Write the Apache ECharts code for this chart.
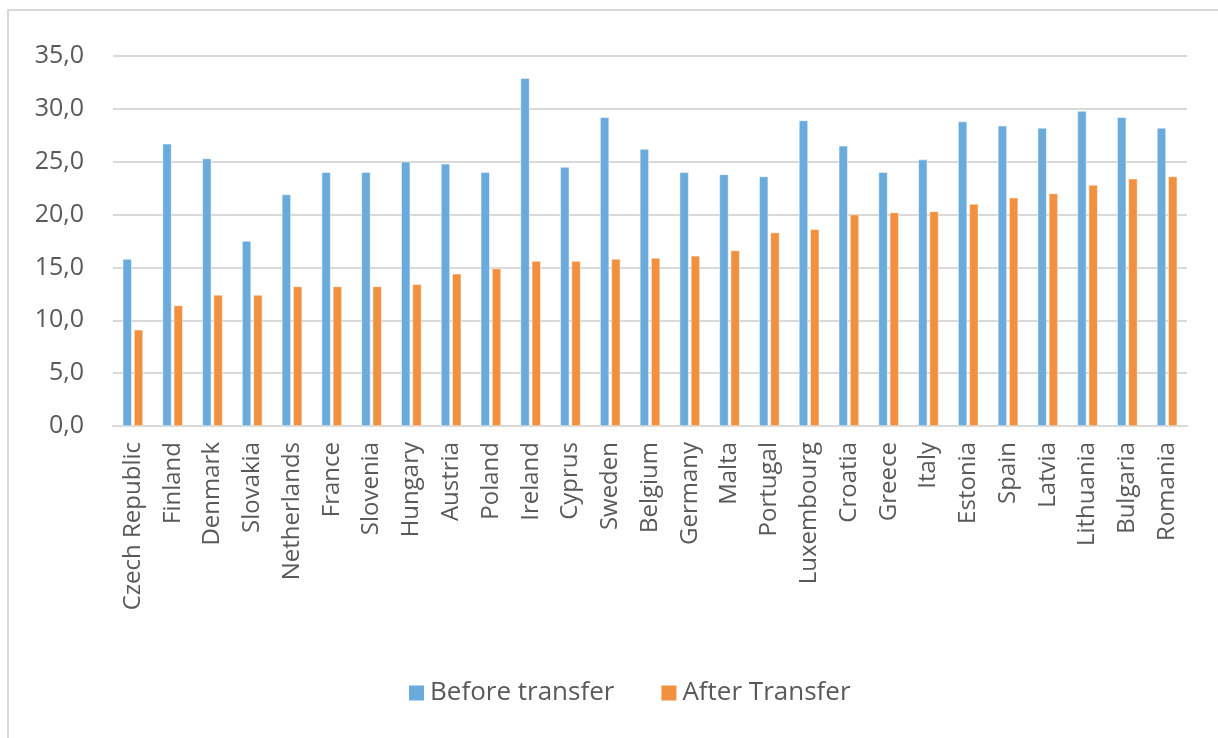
<!DOCTYPE html>
<html>
<head>
<meta charset="utf-8">
<script src="https://cdn.jsdelivr.net/npm/echarts@6/dist/echarts.min.js"></script>
<style>
  html, body { margin: 0; padding: 0; background: #fff; }
  #main { width: 1218px; height: 738px; }
</style>
</head>
<body>
<div id="main"></div>
<script>
// countries, sorted by the value after transfer
const countries = ['Czech Republic', 'Finland', 'Denmark', 'Slovakia', 'Netherlands', 'France', 'Slovenia',
  'Hungary', 'Austria', 'Poland', 'Ireland', 'Cyprus', 'Sweden', 'Belgium', 'Germany', 'Malta',
  'Portugal', 'Luxembourg', 'Croatia', 'Greece', 'Italy', 'Estonia', 'Spain', 'Latvia',
  'Lithuania', 'Bulgaria', 'Romania'];
const beforeTransfer = [15.8, 26.7, 25.3, 17.5, 21.9, 24.0, 24.0, 25.0, 24.8, 24.0, 32.9, 24.5, 29.2,
  26.2, 24.0, 23.8, 23.6, 28.9, 26.5, 24.0, 25.2, 28.8, 28.4, 28.2, 29.8, 29.2, 28.2];
const afterTransfer = [9.1, 11.4, 12.4, 12.4, 13.2, 13.2, 13.2, 13.4, 14.4, 14.9, 15.6, 15.6, 15.8,
  15.9, 16.1, 16.6, 18.3, 18.6, 20.0, 20.2, 20.3, 21.0, 21.6, 22.0, 22.8, 23.4, 23.6];

const font = '"Open Sans", sans-serif';
const textColor = '#595959';

const chart = echarts.init(document.getElementById('main'));

chart.setOption({
  animation: false,
  // light frame around the chart area (cut off at right and bottom)
  graphic: [{
    type: 'rect',
    shape: { x: 8, y: 10, width: 1400, height: 900 },
    style: { fill: 'none', stroke: '#d9d9d9', lineWidth: 2 },
    silent: true
  }],
  grid: {
    left: 113,
    right: 31,
    top: 56,
    bottom: 312
  },
  legend: {
    left: 402,
    top: 675,
    itemWidth: 17,
    itemHeight: 17,
    itemGap: 45,
    icon: 'rect',
    textStyle: { fontFamily: font, fontSize: 26, color: textColor },
    data: ['Before transfer', 'After Transfer']
  },
  xAxis: {
    type: 'category',
    data: countries,
    axisLine: { lineStyle: { color: '#d9d9d9', width: 2 } },
    axisTick: { show: false },
    axisLabel: {
      rotate: 90,
      interval: 0,
      margin: 16,
      fontFamily: font,
      fontSize: 24,
      color: textColor
    }
  },
  yAxis: {
    type: 'value',
    min: 0,
    max: 35,
    interval: 5,
    axisLine: { show: false },
    axisTick: { show: false },
    splitLine: { lineStyle: { color: '#d9d9d9', width: 2 } },
    axisLabel: {
      margin: 29,
      fontFamily: font,
      fontSize: 25,
      color: textColor,
      formatter: v => v.toFixed(1).replace('.', ',')
    }
  },
  series: [
    {
      name: 'Before transfer',
      type: 'bar',
      data: beforeTransfer,
      barWidth: 9,
      barGap: '25%',
      itemStyle: { color: '#6aabdc', borderColor: '#ffffff', borderWidth: 0.5 }
    },
    {
      name: 'After Transfer',
      type: 'bar',
      data: afterTransfer,
      barWidth: 9,
      itemStyle: { color: '#f19140', borderColor: '#ffffff', borderWidth: 0.5 }
    }
  ]
});
</script>
</body>
</html>
